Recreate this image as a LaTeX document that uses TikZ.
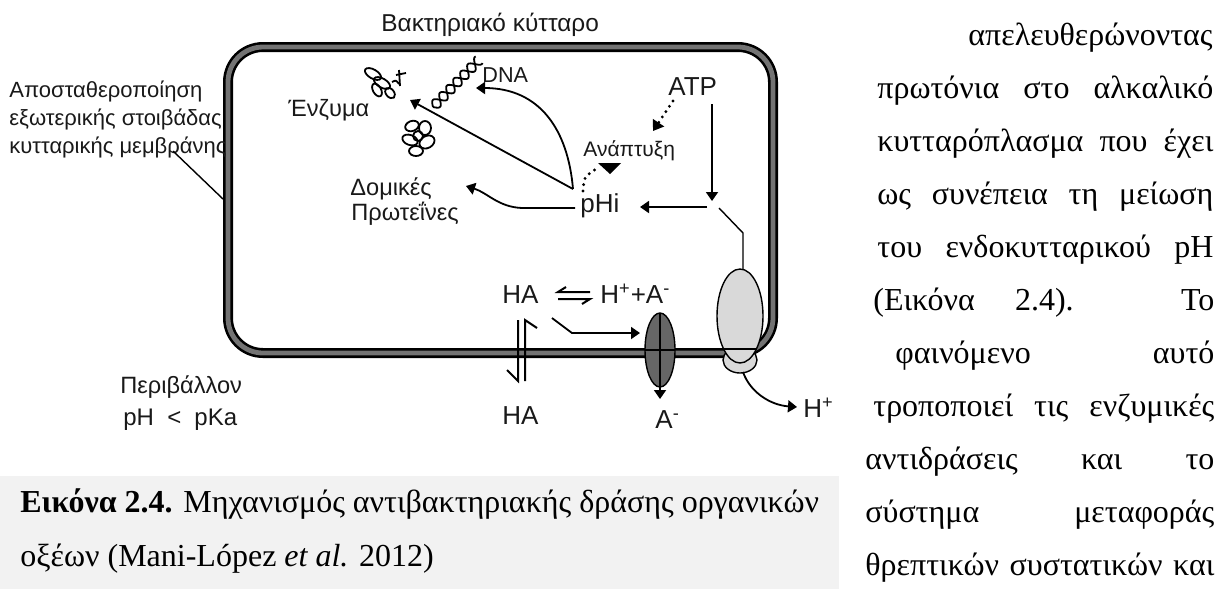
\documentclass[tikz,border=0pt]{standalone}
\usepackage{fontspec}
\setmainfont{Liberation Serif}
\newfontfamily\lsans{Liberation Sans}
\usetikzlibrary{arrows.meta}
\begin{document}
\begin{tikzpicture}[x=0.5pt,y=-0.5pt,
  lbl/.style={font=\lsans\fontsize{11.8}{13}\selectfont, inner sep=0pt, text=black!90, anchor=base west},
  side/.style={font=\lsans\fontsize{11}{13}\selectfont, inner sep=0pt, text=black!90, anchor=base west},
  chem/.style={font=\lsans\fontsize{13}{15}\selectfont, inner sep=0pt, text=black!90, anchor=base west},
  small/.style={font=\lsans\fontsize{10.8}{12}\selectfont, inner sep=0pt, text=black!90, anchor=base west},
  body/.style={font=\fontsize{16}{18}\selectfont, inner sep=0pt, anchor=base west},
  arr/.style={line width=0.9pt, -{Triangle[length=4.5pt,width=6pt]}},
  thinln/.style={line width=0.7pt},
  glyph/.style={line width=0.9pt},
  dots/.style={line width=1.6pt, dash pattern=on 0pt off 3.2pt, line cap=round},
]
\useasboundingbox (0,0) rectangle (1220,591);

% caption panel
\fill[black!5] (0,476) rectangle (839,589);

% cell wall (double membrane line)
\draw[line width=5pt, black, rounded corners=17.5pt] (228,47) rectangle (773,353);
\draw[line width=2.4pt, black!55, rounded corners=17.5pt] (228,47) rectangle (773,353);

% labels outside the cell
\node[lbl, font=\lsans\fontsize{12.2}{14}\selectfont] (title) at (381,31) {Βακτηριακό κύτταρο};
\node[side] (mem1) at (9,97) {Αποσταθεροποίηση};
\node[side] (mem2) at (9,125) {εξωτερικής στοιβάδας};
\node[side] (mem3) at (9,153) {κυτταρικής μεμβράνης};
\coordinate (memfoot) at (173,151);
\coordinate (memtip) at (223,199);
\draw[thinln] (memfoot) -- (memtip);

\node[lbl] (env) at (120,393) {Περιβάλλον};
\node[font=\lsans\fontsize{12}{14}\selectfont, inner sep=0pt, text=black!90, anchor=base west] (phout) at (123,425) {pH\hspace{0.55em}<\hspace{0.55em}pKa};

% labels inside the cell
\node[lbl] (enzlbl) at (288,116) {Ένζυμα};
\node[lbl] (prot1) at (350,195) {Δομικές};
\node[lbl] (prot2) at (351,220) {Πρωτεΐνες};
\node[small] (dna) at (482,82) {DNA};
\node[chem] (atp) at (668,95) {ATP};
\node[font=\lsans\fontsize{10.5}{12}\selectfont, inner sep=0pt, text=black!90, anchor=base west] (grow) at (583,156) {Ανάπτυξη};
\node[chem] (phi) at (580,212) {pHi};
\node[chem] (haIn) at (502,303) {HA};
\node[chem] (ions) at (600,303) {H\textsuperscript{+}+A\textsuperscript{-}};
\node[chem] (haOut) at (502,424) {HA};
\node[chem] (aOut) at (655,428) {A\textsuperscript{-}};
\node[chem] (hOut) at (803,417) {H\textsuperscript{+}};

% enzyme sketch
\begin{scope}[glyph]
  \draw[rotate around={-30:(373,74)}] (373,74) ellipse [x radius=9, y radius=4.5];
  \draw[rotate around={-30:(382,83)}] (382,83) ellipse [x radius=9, y radius=4.5];
  \draw[rotate around={-60:(377,90)}] (377,90) ellipse [x radius=7, y radius=4];
  \draw[rotate around={-50:(390,93)}] (390,93) ellipse [x radius=6, y radius=4];
  \draw (396,75) -- (406,73);
  \draw (399,70) -- (400,86);
  \draw (392,82) .. controls (396,80) .. (399,84);
\end{scope}
% folded protein sketch
\begin{scope}[glyph]
  \draw[rotate around={20:(412,126)}] (412,126) ellipse [x radius=7, y radius=5];
  \draw (425,128) ellipse [x radius=6, y radius=7];
  \draw[rotate around={-20:(410,140)}] (410,140) ellipse [x radius=8, y radius=5];
  \draw[rotate around={30:(427,142)}] (427,142) ellipse [x radius=8, y radius=6];
  \draw (416,151) ellipse [x radius=7, y radius=5];
  \draw (418,136) ellipse [x radius=5, y radius=5];
\end{scope}
% DNA double helix
\begin{scope}[shift={(433,107)}, rotate=45.7, glyph]
  \draw[domain=0:66, samples=100, smooth] plot (\x,{5*sin(18*\x)});
  \draw[domain=0:66, samples=100, smooth] plot (\x,{-5*sin(18*\x)});
\end{scope}

% pHi effects
\coordinate (phiN) at (573,189);
\coordinate (enz) at (410,100);
\coordinate (dnatip) at (476,88);
\coordinate (protip) at (466,186);
\coordinate (phiW) at (575,208);
\draw[arr] (phiN) -- (enz);
\draw[arr] (phiN) .. controls (568,130) and (540,88) .. (dnatip);
\draw[arr] (phiW) -- (522,208) .. controls (498,207) and (488,193) .. (protip);
\draw[dots] (583,191) .. controls (584,177) .. (596,169);
\fill (598,163) -- (621,163) -- (610,174) -- cycle;

% ATP
\coordinate (atpdot) at (673,101);
\coordinate (growtip) at (653,131);
\draw[dots, -{Triangle[length=5pt,width=6.5pt]}] (atpdot) -- (growtip);
\coordinate (atpdown) at (712,104);
\coordinate (junc) at (712,201);
\draw[arr] (atpdown) -- (junc);
\coordinate (juncL) at (707,207);
\coordinate (phiE) at (640,207);
\draw[arr] (juncL) -- (phiE);

% proton pump
\coordinate (pumptop) at (743,271);
\draw[thinln] (719,208) -- (743,233) -- (pumptop);
\draw[thinln, fill=black!15] (740,360) ellipse [x radius=17, y radius=13];
\draw[thinln, fill=black!15] (740,316) ellipse [x radius=23, y radius=47];
\begin{scope}
  \clip (740,316) ellipse [x radius=23, y radius=47];
  \draw[thinln] (710,349) -- (770,349);
\end{scope}
\coordinate (pumpbot) at (743,372);
\coordinate (htip) at (797,407);
\draw[arr] (pumpbot) .. controls (750,392) and (770,405) .. (htip);

% anion channel
\draw[thinln, fill=black!60] (660,350) ellipse [x radius=15, y radius=37];
\draw[thinln] (645,350) -- (675,350);
\coordinate (chtop) at (660,313);
\coordinate (chbot) at (660,399);
\draw[arr] (chtop) -- (chbot);
\coordinate (hain) at (552,318);
\coordinate (chin) at (640,333);
\draw[arr] (hain) -- (572,333) -- (chin);

% HA crossing the membrane
\draw[line width=1pt] (507,370) -- (518,381) -- (518,320);
\draw[line width=1pt] (525,381) -- (525,320) -- (537,328);

% dissociation equilibrium
\draw[line width=1pt] (566,287) -- (558,292) -- (590,292);
\draw[line width=1pt] (558,299) -- (590,299) -- (582,304);

% caption
\node[body] (cap1) at (20,512) {\textbf{Εικόνα 2.4.} Μηχανισμός αντιβακτηριακής δράσης οργανικών};
\node[body] (cap2) at (20,566) {οξέων (Mani-López \textit{et al.} 2012)};

% running text
\node[body, anchor=base east] (r1) at (1213,45) {απελευθερώνοντας};
\node[body] (r2) at (877,98) {\makebox[168pt][s]{πρωτόνια στο αλκαλικό}};
\node[body] (r3) at (877,151) {\makebox[168pt][s]{κυτταρόπλασμα που έχει}};
\node[body] (r4) at (877,204) {\makebox[168pt][s]{ως συνέπεια τη μείωση}};
\node[body] (r5) at (877,257) {\makebox[168pt][s]{του ενδοκυτταρικού pH}};
\node[body] (r6) at (873,310) {\makebox[170.5pt][s]{(Εικόνα 2.4). Το}};
\node[body] (r7) at (895,363) {\makebox[159.5pt][s]{φαινόμενο αυτό}};
\node[body] (r8) at (873,416) {\makebox[170.5pt][s]{τροποποιεί τις ενζυμικές}};
\node[body] (r9) at (865,469) {\makebox[174.5pt][s]{αντιδράσεις και το}};
\node[body] (r10) at (865,522) {\makebox[174.5pt][s]{σύστημα μεταφοράς}};
\node[body] (r11) at (865,575) {\makebox[174.5pt][s]{θρεπτικών συστατικών και}};
\end{tikzpicture}
\end{document}
